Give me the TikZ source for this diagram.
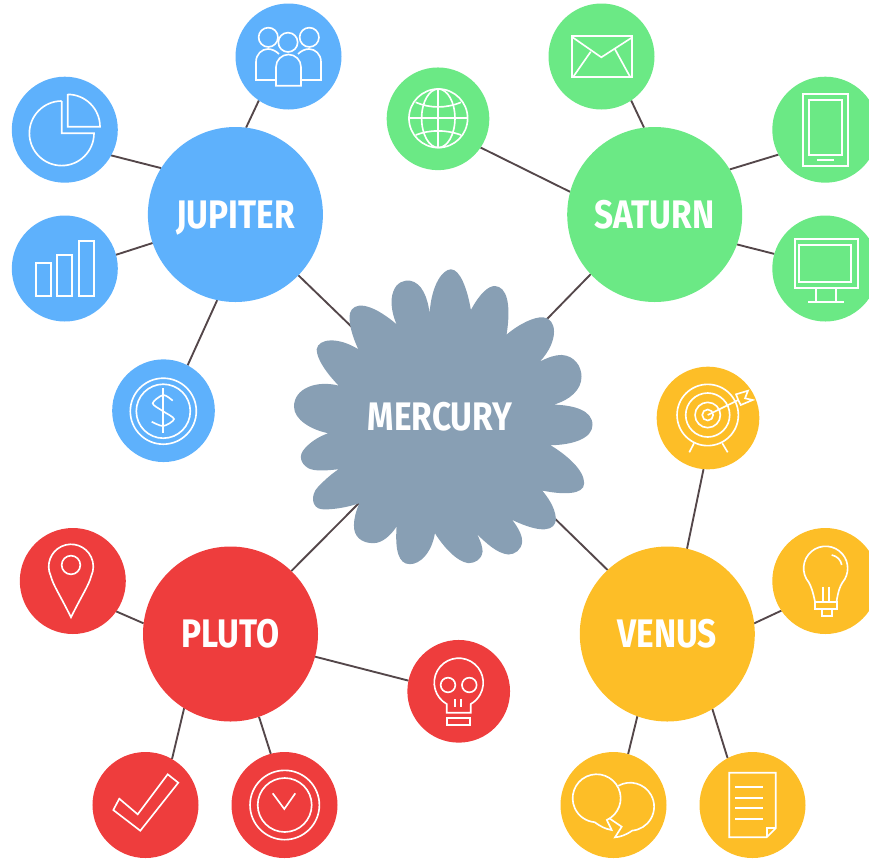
\documentclass[tikz,border=0pt]{standalone}
\usepackage{fontspec}
\setmainfont{Fira Sans}[FakeStretch=0.84]
\usetikzlibrary{backgrounds}
\definecolor{jupiterblue}{HTML}{5EB1FC}
\definecolor{saturngreen}{HTML}{6BE985}
\definecolor{plutored}{HTML}{EE3D3D}
\definecolor{venusyellow}{HTML}{FDBE27}
\definecolor{mercurygrey}{HTML}{889FB4}
\definecolor{linkbrown}{HTML}{54474A}
\tikzset{
  hub/.style={circle, minimum size=5.25cm, inner sep=0pt, outer sep=0pt, text=white, text height=23.4pt, text depth=0pt, font=\fontsize{34}{34}\selectfont\bfseries},
  moon/.style={circle, minimum size=3.18cm, inner sep=0pt, outer sep=0pt},
  smallmoon/.style={circle, minimum size=3.08cm, inner sep=0pt, outer sep=0pt},
  link/.style={draw=linkbrown, line width=1.6pt},
  icon/.style={draw=white, line width=1.4pt, line join=miter}
}
\begin{document}
\begin{tikzpicture}[x=0.03cm, y=-0.03cm] % 1 Einheit = 1 Pixel, y nach unten

\useasboundingbox (0,0) rectangle (869,858);

% Wolke
\begin{scope}[shift={(280,260)}, x=0.01cm, y=-0.01cm]
\fill[mercurygrey] (449,160) .. controls (455,70) and (490,28) .. (513,28)
  .. controls (540,28) and (562,85) .. (573,150)
  .. controls (600,100) and (625,78) .. (645,78)
  .. controls (680,80) and (695,130) .. (680,224)
  .. controls (720,190) and (765,170) .. (790,172)
  .. controls (830,175) and (840,240) .. (780,305)
  .. controls (805,292) and (825,285) .. (845,285)
  .. controls (885,287) and (905,320) .. (905,350)
  .. controls (905,390) and (870,420) .. (822,434)
  .. controls (880,436) and (938,450) .. (938,495)
  .. controls (938,535) and (880,555) .. (812,556)
  .. controls (860,585) and (913,630) .. (913,670)
  .. controls (913,705) and (850,705) .. (787,692)
  .. controls (815,725) and (828,755) .. (828,780)
  .. controls (825,810) and (790,825) .. (697,780)
  .. controls (720,810) and (727,830) .. (727,845)
  .. controls (725,870) and (705,884) .. (685,884)
  .. controls (650,880) and (620,850) .. (592,824)
  .. controls (605,850) and (608,865) .. (608,875)
  .. controls (605,900) and (585,910) .. (565,910)
  .. controls (530,905) and (490,860) .. (465,820)
  .. controls (455,880) and (420,913) .. (390,913)
  .. controls (355,913) and (345,870) .. (350,800)
  .. controls (330,830) and (305,850) .. (280,850)
  .. controls (245,850) and (220,830) .. (222,795)
  .. controls (222,775) and (228,755) .. (238,730)
  .. controls (195,745) and (150,750) .. (125,748)
  .. controls (95,745) and (90,705) .. (115,680)
  .. controls (130,665) and (150,645) .. (176,628)
  .. controls (140,632) and (105,635) .. (85,625)
  .. controls (60,610) and (55,585) .. (75,565)
  .. controls (90,548) and (115,530) .. (145,520)
  .. controls (95,510) and (42,480) .. (42,440)
  .. controls (42,385) and (110,360) .. (176,377)
  .. controls (145,345) and (110,300) .. (110,268)
  .. controls (115,235) and (175,230) .. (235,268)
  .. controls (215,225) and (205,185) .. (210,160)
  .. controls (220,125) and (270,125) .. (350,193)
  .. controls (335,160) and (330,120) .. (340,95)
  .. controls (350,65) and (375,60) .. (390,62)
  .. controls (425,68) and (443,110) .. (449,160) -- cycle;
\end{scope}
\node[hub, minimum size=6cm] (mercury) at (440,417) {MERCURY};

% Grosse Kreise
\foreach \name/\px/\py/\col/\txt in {jupiter/235.4/214.5/jupiterblue/JUPITER, saturn/654.7/214.5/saturngreen/SATURN, pluto/230.5/634/plutored/PLUTO, venus/667.3/634/venusyellow/VENUS}
  \node[hub, fill=\col] (\name) at (\px,\py) {\txt};

% Kleine Kreise
\foreach \name/\px/\py/\col in {team/288.5/56.5/jupiterblue, pie/64.8/129.7/jupiterblue, bars/64.8/268.5/jupiterblue, mail/601.5/56.5/saturngreen, tablet/825.3/129.7/saturngreen, screen/825.3/268.5/saturngreen, bulb/825.3/581/venusyellow, chat/613.5/805/venusyellow, doc/752.5/805/venusyellow, pin/72.8/581/plutored, check/145.5/805/plutored, clock/284.5/805/plutored}
  \node[moon, fill=\col] (\name) at (\px,\py) {};
\foreach \name/\px/\py/\col in {dollar/163.5/410.7/jupiterblue, globe/438/118.8/saturngreen, target/708/418/venusyellow, skull/458.7/691.3/plutored}
  \node[smallmoon, fill=\col] (\name) at (\px,\py) {};

% Verbindungen
\begin{scope}[on background layer]
\foreach \a/\wa/\b/\wb in {jupiter/83.2/team/236, jupiter/148.8/pie/331.4, jupiter/199.4/bars/15.8, jupiter/258.4/dollar/62.5, jupiter/316.6/mercury/134.2,
  saturn/97.5/mail/304, saturn/165/globe/326.7, saturn/31.1/tablet/208.9, saturn/340.5/screen/164.5, saturn/223.5/mercury/41.3,
  pluto/173/pin/325.4, pluto/345.4/skull/168.7, pluto/238.8/check/60.7, pluto/289.4/clock/105.7, pluto/46.2/mercury/227.8,
  venus/77.1/target/265.2, venus/7/bulb/214.3, venus/250.7/chat/74.5, venus/301.1/doc/118.9, venus/133.5/mercury/320.5}
  \draw[link] (\a.\wa) -- (\b.\wb);
\end{scope}

% Team
\foreach \px/\py in {268.3/37.3, 309.3/37.3, 288/42.3}
  \draw[icon] (\px,\py) circle [radius=0.29cm];
\draw[icon] (276,80) -- (256,80) -- (256,62) .. controls (256,54) and (262,49) .. (268,49) .. controls (272,49) and (276,51) .. (279,54);
\draw[icon] (301,80) -- (321,80) -- (321,62) .. controls (321,54) and (315,49) .. (309,49) .. controls (305,49) and (301,51) .. (298,54);
\draw[icon] (276,85.7) -- (276,67) arc (180:360:12.5) -- (301,85.7) -- cycle;

% Torte
\draw[icon] (61.7,101) -- (61.7,133.3) -- (94,133.3) arc (0:270:32.3);
\draw[icon] (67.7,94) -- (67.7,126.7) -- (100,126.7) arc (360:270:32.3);

% Balken
\foreach \xa/\xb/\yt in {35.7/50.7/263.3, 57.3/72.3/255, 78.7/93.7/240.7}
  \draw[icon] (\xa,296) rectangle (\xb,\yt);

% Dollar
\draw[icon] (163.3,411.2) circle [radius=0.99cm];
\draw[icon] (163.3,411.2) circle [radius=0.81cm];
\draw[icon] (162.7,388) -- (162.7,433);
\draw[icon] plot[smooth] coordinates {(172.7,400.7) (163.3,395) (152.7,403.3) (162.7,411) (174,419) (163.3,426) (151.7,421.7)};

% Brief
\draw[icon] (571.7,36) rectangle (631.7,77.3);
\draw[icon] (571.7,36.7) -- (601.3,57.3) -- (631.7,37.7);
\draw[icon] (590.7,51.7) -- (573.3,76.7);
\draw[icon] (615,49.3) -- (630,76.7);

% Globus
\draw[icon] (438.3,118.3) circle [radius=0.88cm];
\draw[icon] (438.3,118.3) ellipse [x radius=0.5cm, y radius=0.88cm];
\draw[icon] (438.3,89) -- (438.3,147.6);
\draw[icon] (409,118.3) -- (467.6,118.3);
\draw[icon] (415.7,102.3) .. controls (430,108.5) and (446,108.5) .. (461,102.3);
\draw[icon] (415.7,135) .. controls (430,129.5) and (446,129.5) .. (461,135);

% Tablet
\draw[icon] (803.3,93.7) rectangle (847.7,165.7);
\draw[icon] (809.3,100) rectangle (842.3,155.3);
\draw[icon] (817.3,160.3) -- (834,160.3);

% Bildschirm
\draw[icon] (795,239.3) rectangle (857.7,287.7);
\draw[icon] (799.3,245.3) rectangle (851.3,281.7);
\draw[icon] (816,287.7) -- (816,301.7);
\draw[icon] (836,287.7) -- (836,301.7);
\draw[icon] (808.3,301.7) -- (844,301.7);

% Zielscheibe
\foreach \rad in {0.92cm, 0.66cm, 0.38cm, 0.165cm}
  \draw[icon] (707.7,415) circle [radius=\rad];
\draw[icon] (694,443.3) -- (689.3,452.3);
\draw[icon] (722.3,443.3) -- (727.7,452.3);
\draw[icon] (707.7,415) -- (738.3,400);
\draw[icon] (736,394.3) -- (748,390.7) -- (745,398.3) -- (752.7,400) -- (740.7,405) -- (738.3,400) -- cycle;

% Gluehbirne
\draw[icon] (815,601.7) .. controls (813,592) and (811,586) .. (808.8,582.4) arc (140:400:22) .. controls (840,586) and (838,592) .. (836.5,601.7);
\draw[icon] (815,602.3) rectangle (837.3,609);
\draw[icon] (821.7,609) rectangle (831.7,616);
\draw[icon] (822.7,586.7) -- (822.7,602.3);
\draw[icon] (829.3,586.7) -- (829.3,602.3);
\draw[icon] (831.7,555) .. controls (837,556) and (841,560) .. (841.7,565);

% Sprechblasen
\draw[icon] (606.8,820) arc (65:-265:24) .. controls (600,826) and (605,829) .. (611.7,830) -- cycle;
\draw[icon] (618.3,785.8) arc (-119.5:85:24) .. controls (626,835) and (620,837) .. (615,837.3) -- (621.7,826.7) -- (609.3,818.3);

% Dokument
\draw[icon] (729.3,772.7) -- (775.7,772.7) -- (775.7,828.3) -- (766.7,837.3) -- (729.3,837.3) -- cycle;
\draw[icon] (775.7,828.3) -- (766.7,828.3) -- (766.7,837.3);
\foreach \py in {787.3, 798.3, 808.3, 819.3}
  \draw[icon] (735,\py) -- (763.3,\py);

% Pin
\draw[icon] (71,617.3) .. controls (60,595) and (53,585) .. (50.8,576) arc (155:385:22.3) .. controls (89,585) and (82,595) .. (71,617.3) -- cycle;
\draw[icon] (71,565) circle [radius=0.28cm];

% Haken
\draw[icon] (167.7,774.3) -- (178.3,782.7) -- (140.3,830.7) -- (113.3,810) -- (119.3,798.7) -- (137.7,814.3) -- cycle;

% Uhr
\draw[icon] (284.7,805) circle [radius=1.04cm];
\draw[icon] (284.7,805) circle [radius=0.81cm];
\draw[icon] (272.7,793.3) -- (284.3,809) -- (295.3,793.3);

% Schaedel
\draw[icon] (446.7,712.7) -- (446.7,704) arc (119.4:420.6:24.5) -- (470.7,712.7) -- cycle;
\draw[icon] (448,685) circle [radius=0.22cm];
\draw[icon] (469.3,685) circle [radius=0.22cm];
\draw[icon] (454.7,699.3) -- (454.7,706.7);
\draw[icon] (461.3,699.3) -- (461.3,706.7);
\draw[icon] (447.3,718) rectangle (470,725);

\end{tikzpicture}
\end{document}
